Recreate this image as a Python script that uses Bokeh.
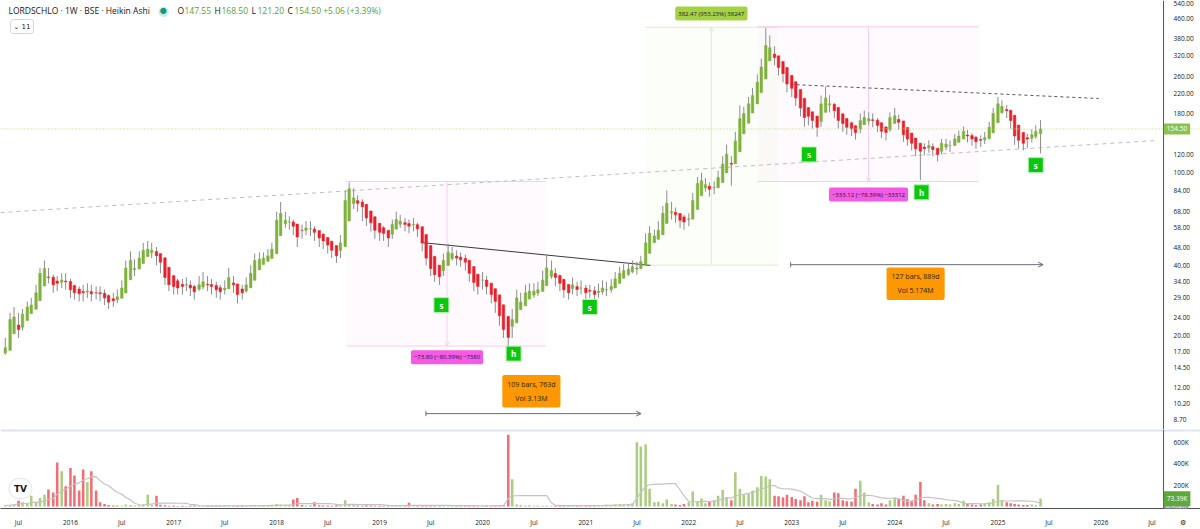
import numpy as np
import pandas as pd
from bokeh.plotting import figure
from bokeh.layouts import column
from bokeh.models import (Range1d, FixedTicker, PrintfTickFormatter, CustomJSTickFormatter,
                          Label, Span, BoxAnnotation, Arrow, OpenHead, TeeHead, ColumnDataSource)
from bokeh.embed import file_html
from bokeh.resources import INLINE
from bokeh.core.properties import value

FONT = "Open Sans"

# ---------------- data (semi-monthly Heikin Ashi bars) ----------------
first_date = "2015-05-15"
first_open = 16.8
close = [
    17.7, 23.4, 24, 21.2, 24.7, 26.5, 27, 30.5, 37, 38.8,
    35.5, 33, 33.5, 34.6, 34, 31.4, 30.5, 30.2, 30.5, 31,
    30.2, 30.5, 30.2, 29, 27.8, 28.2, 29.3, 32, 39, 42,
    38.8, 43, 46.5, 47, 46.5, 44, 41.3, 35.5, 33, 32.5,
    32, 32.5, 33, 32, 30.8, 33, 34, 33, 32.5, 31.4,
    30.8, 32, 35.5, 33, 30, 30.5, 33, 37, 42, 42.5,
    43, 44, 47, 62.5, 67, 62.5, 61.5, 59, 53, 56.6,
    58, 57.5, 55.5, 52.5, 51, 49, 46.5, 44, 50, 76,
    85.5, 78, 74, 71.5, 64, 61, 56.6, 55.5, 55, 52.5,
    60, 63, 62, 60, 59, 60, 57.5, 50, 43, 38.8,
    36.5, 35.8, 42, 45.5, 45, 43, 42.3, 41.3, 37, 33.8,
    32.5, 34.6, 32.5, 30, 28, 24.3, 21.2, 19.6, 23.4, 29,
    27.8, 30.5, 31, 31, 31.4, 34.6, 39, 38, 35.5, 33.5,
    31.4, 30.5, 33,
    31.5, 32, 30.5, 31, 30, 31, 32, 31.5, 32.5, 35,
    37, 38, 38.5, 39.5, 39, 41.5, 50, 55, 53.5, 56.6,
    67, 74, 68, 66, 62.5, 61.5, 63.5, 76, 90, 92.5,
    89, 85, 86.5, 95.5, 109, 120, 109, 137, 171, 180,
    198, 215, 245, 285, 353, 345, 313, 284, 267, 241,
    231, 210, 190, 173, 175, 168, 157, 198, 210, 198,
    185, 168, 163, 157, 155, 149, 168, 173, 171, 168,
    160, 151, 149, 173, 176, 165, 146, 140, 134, 127,
    124, 127, 131, 126, 120, 134, 133, 131, 140, 144,
    151, 144, 140, 136, 138, 142, 157, 180, 198, 193,
    185, 168, 144, 138, 134, 140, 146, 151, 154.5,
]
high = [
    19.5, 25, 26.5, 25, 26, 28, 29, 33, 39, 42,
    39, 36.5, 36, 37, 37, 35, 33, 32.5, 33, 33.5,
    33, 32.5, 32.5, 31.5, 30, 30.5, 31.5, 34.5, 42, 46,
    42.5, 46, 50, 51, 50, 48, 45, 41, 36, 35,
    35, 35, 35.5, 34.5, 33, 36, 37.5, 36, 35, 34,
    33, 34.5, 39, 36, 33, 33, 35.5, 40, 45, 45.5,
    45.5, 47, 50, 68, 75, 68, 65, 63, 59, 60,
    62, 62, 59, 56, 55, 53, 50, 48, 54, 84,
    91, 86, 80, 77, 72, 66, 62, 60, 59, 57,
    63, 68, 66, 64, 63, 64, 61, 58, 50, 43,
    40, 39, 45, 49.5, 48, 46.5, 45.5, 44.5, 41, 37,
    36, 37.5, 36, 33, 31, 28, 24, 21.5, 26, 31.5,
    30.5, 33, 33.5, 33.5, 34, 38, 44.5, 42, 39, 36.5,
    34.5, 33, 35.5,
    34, 34.5, 33, 33, 32.5, 33.5, 34.5, 34, 35, 37.5,
    39.5, 40.5, 41, 42, 41.5, 44, 55, 59, 57, 62,
    72, 84, 75, 71, 67, 66, 67, 82, 96, 100,
    95, 91, 92, 102, 118, 132, 118, 150, 195, 192,
    212, 232, 265, 310, 420, 390, 350, 310, 290, 262,
    248, 232, 212, 192, 188, 182, 170, 215, 235, 216,
    200, 186, 176, 170, 166, 160, 180, 185, 182, 180,
    172, 163, 158, 182, 190, 178, 160, 150, 144, 136,
    132, 134, 138, 134, 128, 140, 140, 138, 147, 152,
    158, 153, 148, 144, 145, 150, 166, 190, 212, 205,
    196, 184, 160, 148, 145, 147, 154, 160, 168.5,
]
low = [
    16.5, 17.8, 21.5, 19.5, 21, 24, 25, 26.5, 30, 35,
    33.5, 30.5, 31, 32, 31.5, 29, 28.5, 28, 28, 29,
    28, 28.5, 28, 27, 26, 26.5, 27.5, 29, 32, 38,
    36, 39, 43, 44, 43, 40, 37, 33, 31, 30,
    30, 30, 31, 29.5, 28.5, 31, 31.5, 31, 30, 29,
    28.5, 30, 32.5, 30.5, 27.5, 28.5, 30.5, 34, 38.5, 40,
    40.5, 41.5, 44, 47, 60, 58, 57, 54, 48, 52,
    54, 53.5, 51, 48, 47, 45, 43, 41, 43, 50,
    75, 70, 68, 62, 59, 56, 52, 51, 51, 48,
    52, 58, 58, 56, 55, 56, 53, 46, 40, 36,
    34, 33, 36, 42, 42, 40, 39.5, 38, 34, 31,
    30, 31.5, 30, 27.5, 25, 22, 19.5, 18, 19.5, 23,
    26, 27.5, 29, 29, 29.5, 31, 35, 35, 32.5, 31,
    29, 28.5, 30,
    29.5, 30, 28.5, 29, 28, 29, 30, 29.5, 30.5, 32,
    34.5, 35.5, 36, 37, 36.5, 38.5, 41, 49, 50, 52,
    56, 66, 63, 61, 58, 57, 59, 63, 76, 86,
    83, 79, 81, 86, 96, 108, 88, 110, 136, 165,
    178, 195, 215, 245, 285, 318, 290, 262, 245, 222,
    212, 194, 175, 158, 160, 155, 143, 158, 195, 182,
    172, 155, 150, 146, 144, 139, 148, 162, 160, 157,
    150, 141, 138, 150, 164, 153, 136, 131, 125, 118,
    93, 119, 122, 118, 112, 120, 125, 123, 131, 135,
    141, 135, 131, 127, 129, 133, 142, 156, 175, 180,
    172, 155, 132, 127, 125, 128, 135, 140, 121.2,
]
volume_k = [
    12, 15, 20, 55, 40, 30, 100, 45, 80, 110,
    160, 130, 410, 330, 190, 360, 290, 150, 345, 230,
    330, 150, 40, 25, 15, 10, 12, 8, 20, 15,
    10, 12, 20, 110, 15, 100, 18, 12, 8, 10,
    6, 8, 5, 7, 10, 6, 5, 8, 6, 7,
    5, 9, 12, 6, 8, 10, 7, 9, 6, 8,
    10, 12, 18, 25, 20, 15, 12, 65, 80, 15,
    10, 12, 40, 12, 10, 9, 8, 12, 20, 60,
    25, 15, 10, 8, 12, 9, 7, 8, 6, 10,
    8, 7, 9, 6, 35, 8, 10, 12, 9, 7,
    8, 10, 6, 7, 9, 8, 6, 10, 8, 7,
    6, 8, 9, 7, 10, 10, 15, 670, 255, 20,
    15, 10, 12, 8, 10, 7, 9, 8, 6, 10,
    8, 7, 9, 10, 8, 12, 9, 15, 10, 12,
    18, 15, 20, 22, 18, 25, 30, 600, 560, 580,
    165, 40, 45, 30, 65, 25, 20, 15, 25, 40,
    140, 50, 75, 30, 45, 60, 100, 155, 90, 60,
    320, 165, 110, 120, 150, 180, 285, 280, 255, 100,
    95, 85, 110, 90, 70, 60, 95, 40, 55, 45,
    110, 60, 50, 130, 125, 60, 50, 45, 165, 240,
    130, 40, 25, 20, 30, 20, 60, 80, 70, 100,
    70, 50, 110, 230, 60, 30, 20, 25, 20, 25,
    20, 30, 25, 55, 30, 20, 15, 20, 25, 40,
    70, 200, 60, 40, 30, 25, 20, 15, 15, 20,
    15, 73.39,
]

price_ticks = [8.7, 10.2, 12, 14.5, 17, 20, 24, 29, 34, 40, 48, 58, 68, 84,
               100, 120, 180, 220, 260, 320, 380, 460, 540]
volume_ticks = [200000, 400000, 600000]
time_ticks = ["2015-07-01", "2016-01-01", "2016-07-01", "2017-01-01", "2017-07-01",
              "2018-01-01", "2018-07-01", "2019-01-01", "2019-07-01", "2020-01-01",
              "2020-07-01", "2021-01-01", "2021-07-01", "2022-01-01", "2022-07-01",
              "2023-01-01", "2023-07-01", "2024-01-01", "2024-07-01", "2025-01-01",
              "2025-07-01", "2026-01-01", "2026-07-01"]
settings_tick = "2026-10-18"

last_price = 154.5
last_volume_k = 73.39
vol_ma_k = 8.432

# annotations (drawing tools on the chart)
measure_left = ["2018-09-05", "2021-08-01", "2022-09-01"]
measure_right = ["2020-08-12", "2022-11-14", "2024-10-25"]
measure_mid = ["2019-08-28", "2022-03-22", "2023-09-30"]
measure_from = [91.80, 40.12, 424.95]
measure_to = [18.00, 422.59, 91.83]
measure_text = ["\u221273.80 (\u221280.39%) \u22127380", "382.47 (953.23%) 38247",
                "\u2212333.12 (\u221278.39%) \u221233312"]
measure_text_y = [16.1, 484, 80.7]

range_start = ["2019-06-14", "2022-12-28"]
range_end = ["2021-07-16", "2025-06-10"]
range_price = [9.22, 40.3]
range_text = ["109 bars, 763d\nVol 3.13M", "127 bars, 889d\nVol 5.174M"]
range_text_x = ["2020-06-22", "2024-03-15"]
range_text_y = [11.5, 33.4]

trend_x0 = ["2015-04-28", "2022-12-28", "2019-05-27"]
trend_y0 = [67.5, 240, 50.2]
trend_x1 = ["2026-07-13", "2025-12-24", "2021-08-18"]
trend_y1 = [137.7, 208.8, 40.0]
trend_color = ["#bdbdbd", "#555555", "#3a3a3a"]
trend_dash = ["4 4", "3 3", "solid"]

sig_dates = ["2019-08-08", "2020-04-20", "2021-01-15", "2023-03-03", "2024-04-05", "2025-05-15"]
sig_prices = [27, 16.7, 26.5, 120, 82.5, 108]
sig_text = ["s", "h", "s", "s", "h", "s"]


def ms(s):
    return pd.Timestamp(s).value / 1e6


# ---------------- derived Heikin Ashi values ----------------
n = len(close)
dates = pd.date_range(first_date, periods=n, freq="SMS")
c = np.array(close, dtype=float)
o = np.empty(n)
o[0] = first_open
for i in range(1, n):
    o[i] = (o[i - 1] + c[i - 1]) / 2.0
hi = np.maximum(np.array(high, dtype=float), np.maximum(o, c))
lo = np.minimum(np.array(low, dtype=float), np.minimum(o, c))
up = c >= o
GREEN = "#7fb13d"
RED = "#e8202a"
colors = [GREEN if u else RED for u in up]
vol = np.array(volume_k) * 1000.0
vol_ma = pd.Series(vol).rolling(10, min_periods=1).mean().values

src = ColumnDataSource(dict(x=dates, o=o, c=c, hi=hi, lo=lo, top=np.maximum(o, c),
                            bot=np.minimum(o, c), color=colors, vol=vol, vma=vol_ma))

W = 1200
MAIN_H = 429
VOL_H = 100
BAR_W = 9 * 86400000
DATA_END = "2026-08-11"     # where the price scale strip begins
TAG_X = ms("2026-08-12")
STANDOFF = -33

x_range = Range1d(ms("2015-04-28"), ms("2026-12-20"))

p = figure(width=W, height=MAIN_H, x_axis_type="datetime", y_axis_type="log",
           x_range=x_range, y_range=Range1d(7.88, 551), x_axis_location=None,
           y_axis_location="right", output_backend="svg", toolbar_location=None,
           min_border_left=0, min_border_right=0, min_border_top=0, min_border_bottom=0)
p.outline_line_color = None
p.grid.visible = False
p.background_fill_color = "white"
ax = p.yaxis[0]
ax.ticker = FixedTicker(ticks=price_ticks)
ax.formatter = PrintfTickFormatter(format="%.2f")
ax.major_tick_line_color = None
ax.minor_tick_line_color = None
ax.axis_line_color = None
ax.major_label_text_font = FONT
ax.major_label_text_font_size = "6.5px"
ax.major_label_text_color = "#131722"
ax.major_label_standoff = STANDOFF

# measure boxes
fills = ["#f7b8ec", "#cfeab0", "#f7b8ec"]
lines_c = ["#f8cdf2", "#dcefc6", "#f8cdf2"]
for i in range(3):
    top = max(measure_from[i], measure_to[i])
    bot = min(measure_from[i], measure_to[i])
    p.add_layout(BoxAnnotation(left=ms(measure_left[i]), right=ms(measure_right[i]),
                               bottom=bot, top=top, fill_color=fills[i], fill_alpha=0.07,
                               line_color=None, level="underlay"))
    p.segment(x0=[ms(measure_left[i])] * 2, x1=[ms(measure_right[i])] * 2, y0=[top, bot],
              y1=[top, bot], line_color=lines_c[i], line_width=1, level="underlay")
    p.add_layout(Arrow(end=OpenHead(size=4, line_color=lines_c[i], line_width=1),
                       x_start=ms(measure_mid[i]), y_start=measure_from[i],
                       x_end=ms(measure_mid[i]), y_end=measure_to[i],
                       line_color=lines_c[i], line_width=1, level="underlay"))

# current price line
p.add_layout(Span(location=last_price, dimension="width", line_color="#b5dc6b",
                  line_dash="1 2", line_width=1))

# trend lines
for i in range(3):
    p.line([ms(trend_x0[i]), ms(trend_x1[i])], [trend_y0[i], trend_y1[i]],
           line_color=trend_color[i], line_dash=trend_dash[i], line_width=1)

# candles
p.segment(x0="x", x1="x", y0="lo", y1="hi", source=src, line_color="#8c8c8c", line_width=1)
p.vbar(x="x", width=BAR_W, top="top", bottom="bot", source=src, fill_color="color",
       line_color="color", line_width=0.5)

# date ranges
for i in range(2):
    p.add_layout(Arrow(start=TeeHead(size=5, line_color="#6a6d78", line_width=1),
                       end=OpenHead(size=5, line_color="#6a6d78", line_width=1),
                       x_start=ms(range_start[i]), y_start=range_price[i],
                       x_end=ms(range_end[i]), y_end=range_price[i],
                       line_color="#6a6d78", line_width=1))
    p.add_layout(Label(x=ms(range_text_x[i]), y=range_text_y[i], text=range_text[i],
                       text_align="center", text_baseline="middle", text_font=FONT,
                       text_font_size="7px", text_color="#1e1e1e", text_line_height=1.5,
                       background_fill_color="#ff9800", border_radius=2, padding=5))

# measure labels
lab_bg = ["#f35be6", "#a3d343", "#f35be6"]
for i in range(3):
    p.add_layout(Label(x=ms(measure_mid[i]), y=measure_text_y[i], text=measure_text[i],
                       text_align="center", text_baseline="middle", text_font=FONT,
                       text_font_size="6px", text_color="#2a1030",
                       background_fill_color=lab_bg[i], border_radius=2, padding=3))

# s / h markers
sig_x = [ms(d) for d in sig_dates]
p.rect(x=sig_x, y=sig_prices, width=15, height=15, width_units="screen",
       height_units="screen", fill_color="#0cc80c", line_color="#b8f0b8", line_width=1)
p.text(x=sig_x, y=sig_prices, text=sig_text, text_align="center", text_baseline="middle",
       text_color="white", text_font=value(FONT), text_font_size="8px",
       text_font_style="bold")

# price scale strip edge
p.add_layout(Span(location=ms(DATA_END), dimension="height", line_color="#50535e",
                  line_width=1))

# header
hdr = [("LORDSCHLO \u00b7 1W \u00b7 BSE \u00b7 Heikin Ashi", 8, "#131722"),
       ("O", 177, "#131722"), ("147.55", 184, "#5a9e32"),
       ("H", 214, "#131722"), ("168.50", 221, "#5a9e32"),
       ("L", 251, "#131722"), ("121.20", 257, "#5a9e32"),
       ("C", 287, "#131722"), ("154.50 +5.06 (+3.39%)", 294, "#5a9e32")]
for t, xx, col in hdr:
    p.add_layout(Label(x=xx, y=MAIN_H - 10, x_units="screen", y_units="screen", text=t,
                       text_baseline="middle", text_font=FONT, text_font_size="8.5px",
                       text_color=col))
p.add_layout(Label(x=163, y=MAIN_H - 10, x_units="screen", y_units="screen", text="\u25cf",
                   text_align="center", text_baseline="middle", text_font="DejaVu Sans",
                   text_font_size="13px", text_color="#c8ece4"))
p.add_layout(Label(x=163, y=MAIN_H - 10, x_units="screen", y_units="screen", text="\u25cf",
                   text_align="center", text_baseline="middle", text_font="DejaVu Sans",
                   text_font_size="8px", text_color="#089981"))
p.add_layout(Label(x=10, y=MAIN_H - 26, x_units="screen", y_units="screen",
                   text="\u2304 11", text_baseline="middle", text_font="DejaVu Sans",
                   text_font_size="7px", text_color="#131722", border_line_color="#d1d4dc",
                   border_radius=3, padding=3))

# price tag on scale
p.add_layout(Label(x=TAG_X, y=last_price, text="154.50", text_baseline="middle",
                   text_font=FONT, text_font_size="6.5px", text_color="white",
                   background_fill_color="#8bc34a", padding=3))

# ---------------- volume pane ----------------
pv = figure(width=W, height=VOL_H, x_axis_type="datetime", x_range=x_range,
            y_range=Range1d(-18000, 718000), y_axis_location="right",
            output_backend="svg", toolbar_location=None, min_border_left=0,
            min_border_right=0, min_border_top=0, min_border_bottom=19)
pv.outline_line_color = None
pv.grid.visible = False
pv.add_layout(Span(location=714000, dimension="width", line_color="#e0e3eb", line_width=3))
pv.vbar(x="x", width=BAR_W, top="vol", bottom=0, source=src, fill_color="color",
        line_color=None, fill_alpha=0.65)
pv.line(x="x", y="vma", source=src, line_color="#c3c3c3", line_width=1.2)
pv.add_layout(Span(location=ms(DATA_END), dimension="height", line_color="#50535e",
                   line_width=1))

vax = pv.yaxis[0]
vax.ticker = FixedTicker(ticks=volume_ticks)
vax.formatter = CustomJSTickFormatter(code="return (tick/1000).toFixed(0) + 'K';")
vax.major_tick_line_color = None
vax.minor_tick_line_color = None
vax.axis_line_color = None
vax.major_label_text_font = FONT
vax.major_label_text_font_size = "6.5px"
vax.major_label_text_color = "#131722"
vax.major_label_standoff = STANDOFF

xax = pv.xaxis[0]
xax.ticker = FixedTicker(ticks=[ms(t) for t in time_ticks] + [ms(settings_tick)])
xax.formatter = CustomJSTickFormatter(
    args=dict(g=ms(settings_tick)),
    code="if (Math.abs(tick - g) < 1) return '\u2699'; const d = new Date(tick); "
         "return d.getUTCMonth() == 0 ? String(d.getUTCFullYear()) : 'Jul';")
xax.major_tick_line_color = None
xax.minor_tick_line_color = None
xax.axis_line_color = "#50535e"
xax.major_label_text_font = FONT
xax.major_label_text_font_size = "6.5px"
xax.major_label_text_color = "#131722"
xax.major_label_standoff = 3

pv.add_layout(Label(x=TAG_X, y=vol_ma_k * 1000, text="8.432K", text_baseline="middle",
                    text_font=FONT, text_font_size="6.5px", text_color="white",
                    background_fill_color="#9598a1", padding=2))
pv.add_layout(Label(x=TAG_X, y=last_volume_k * 1000, text="73.39K", text_baseline="middle",
                    text_font=FONT, text_font_size="6.5px", text_color="white",
                    background_fill_color="#5fa83a", padding=3))
pv.add_layout(Label(x=20, y=20, x_units="screen", y_units="screen", text="TV",
                    text_align="center", text_baseline="middle", text_font="DejaVu Sans",
                    text_font_size="9px", text_font_style="bold", text_color="#131722",
                    background_fill_color="white", border_line_color="#e0e3eb",
                    border_radius=10, padding=5))

layout = column(p, pv, spacing=0)
open("out.html", "w").write(file_html(layout, INLINE))
